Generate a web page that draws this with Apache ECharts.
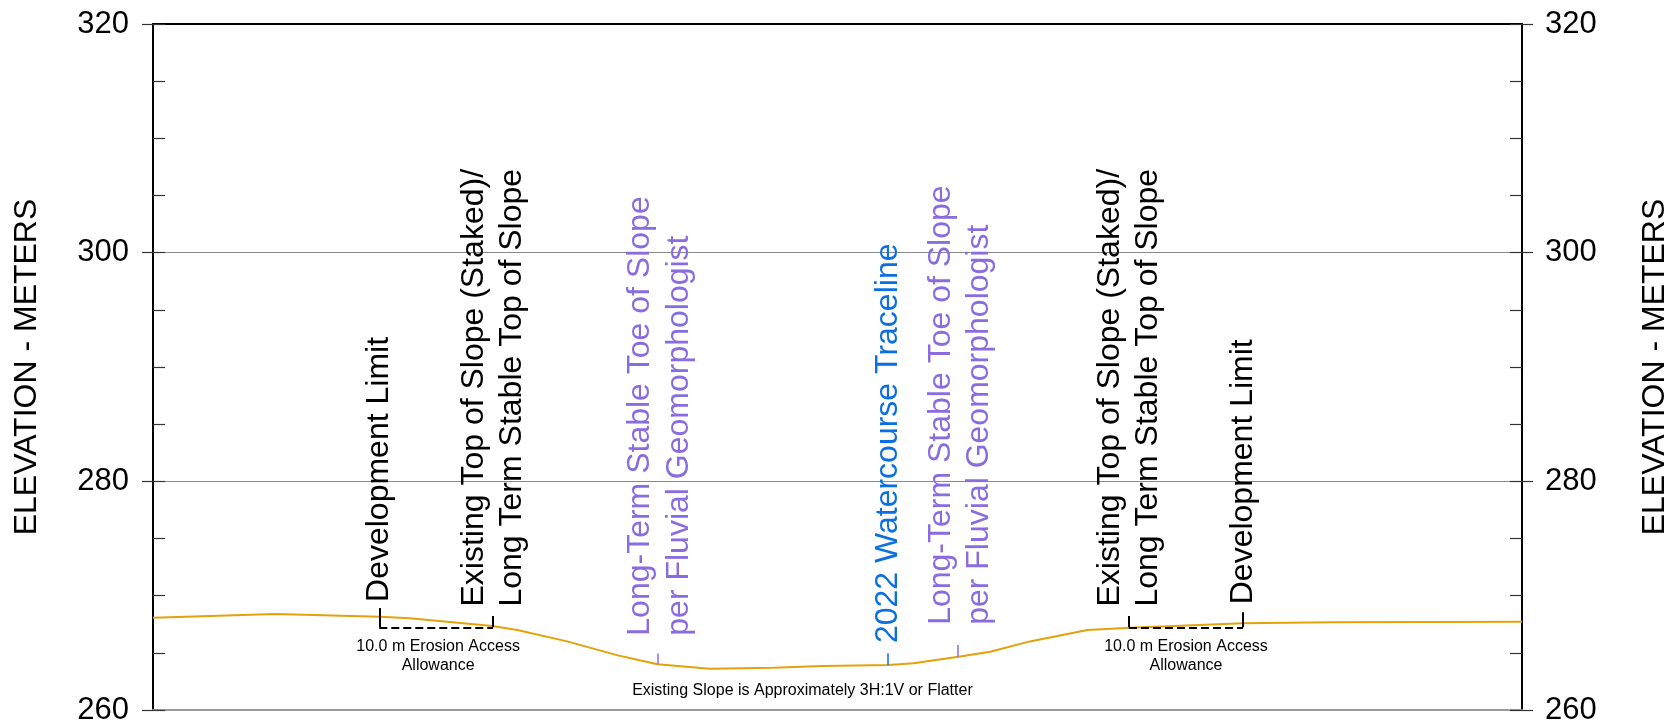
<!DOCTYPE html>
<html>
<head>
<meta charset="utf-8">
<script src="https://cdn.jsdelivr.net/npm/echarts@6/dist/echarts.min.js"></script>
<style>
html,body{margin:0;padding:0;background:#fff;}
#chart{width:1669px;height:724px;}
</style>
</head>
<body>
<div id="chart"></div>
<script>
// ---- DATA ----
// Ground profile: chainage (m) and elevation (m)
const profileX    = [0, 10.8, 20.1, 22.7, 30.0, 32.2, 36.6, 41.0, 43.0, 44.6, 49.2, 54.8, 59.2, 65.0, 67.2, 71.2, 74.0, 77.5, 82.6, 86.4, 96.3, 104.3, 121.0];
const profileElev = [268.07, 268.40, 268.16, 268.02, 267.35, 267.00, 266.00, 264.80, 264.35, 264.00, 263.60, 263.70, 263.85, 263.93, 264.08, 264.66, 265.10, 266.00, 267.00, 267.20, 267.58, 267.67, 267.72];

// Axis ranges / ticks
const xRange = [0, 121];
const yRange = [260, 320];
const yMajor = 20;
const yMinor = 5;
const yAxisName = 'ELEVATION - METERS';

// Vertical (rotated) annotations
const vLabelText = [
  'Development Limit',
  'Existing Top of Slope (Staked)/\nLong Term Stable Top of Slope',
  'Long-Term Stable Toe of Slope\nper Fluvial Geomorphologist',
  '2022 Watercourse Traceline',
  'Long-Term Stable Toe of Slope\nper Fluvial Geomorphologist',
  'Existing Top of Slope (Staked)/\nLong Term Stable Top of Slope',
  'Development Limit'
];
const vLabelX    = [20.0, 30.05, 44.8, 64.96, 71.33, 86.26, 96.34];
const vLabelElev = [269.45, 269.05, 266.50, 265.85, 267.45, 269.05, 269.25];
const vLabelKind = ['limit', 'limit', 'toe', 'trace', 'toe', 'limit', 'limit'];

// Horizontal notes
const noteText = ['10.0 m Erosion Access\nAllowance', '10.0 m Erosion Access\nAllowance', 'Existing Slope is Approximately 3H:1V or Flatter'];
const noteX    = [25.2, 91.3, 57.4];
const noteElev = [264.72, 264.72, 261.66];

// Bracket ticks (solid vertical)
const bracketX      = [20.0, 30.05, 86.26, 96.34];
const bracketTop    = [268.92, 268.22, 268.22, 268.55];
const bracketBottom = [267.23, 267.23, 267.23, 267.23];
// Erosion allowance spans (dashed)
const allowanceFrom = [20.0, 86.26];
const allowanceTo   = [30.05, 96.34];
const allowanceElev = [267.23, 267.23];

// Marker ticks at toe / traceline
const markerX      = [44.63, 64.96, 71.15];
const markerBottom = [264.00, 263.93, 264.66];
const markerTop    = [264.95, 264.96, 265.68];
const markerKind   = ['toe', 'trace', 'toe'];

// ---- STYLE ----
const FONT = '"Liberation Sans", Arial, sans-serif';
const kindColor = { limit: '#000000', toe: '#8A6CE0', trace: '#0A6FE0' };
const profileColor = '#E3A10A';

const chart = echarts.init(document.getElementById('chart'), null, { renderer: 'canvas' });

function yAxisMain(side, gap, margin) {
  return {
    type: 'value', position: side, min: yRange[0], max: yRange[1], interval: yMajor,
    name: yAxisName, nameLocation: 'middle', nameGap: gap, nameRotate: 90,
    nameTextStyle: { fontFamily: FONT, fontSize: 32, color: '#000' },
    axisLine: { show: true, lineStyle: { color: '#000', width: 2 } },
    axisTick: { show: true, inside: false, length: 11, lineStyle: { color: '#333', width: 1.2 } },
    axisLabel: { show: true, margin: margin, fontFamily: FONT, fontSize: 31, color: '#000' },
    splitLine: { show: side === 'left', showMinLine: false, showMaxLine: false, lineStyle: { color: '#8a8a8a', width: 1.2 } }
  };
}
function yAxisMinor(side) {
  return {
    type: 'value', position: side, min: yRange[0], max: yRange[1], interval: yMinor,
    axisLine: { show: false },
    axisTick: { show: true, inside: true, length: 12, lineStyle: { color: '#333', width: 1.2 } },
    axisLabel: { show: false },
    splitLine: { show: false }
  };
}

const profileData = profileX.map((x, i) => [x, profileElev[i]]);

const bracketLines = bracketX.map((x, i) => ({ coords: [[x, bracketTop[i]], [x, bracketBottom[i]]] }));
const allowanceLines = allowanceFrom.map((x, i) => ({ coords: [[x, allowanceElev[i]], [allowanceTo[i], allowanceElev[i]]] }));
const markerLines = markerX.map((x, i) => ({
  coords: [[x, markerBottom[i]], [x, markerTop[i]]],
  lineStyle: { color: kindColor[markerKind[i]], width: 1.5 }
}));

const vLabelData = vLabelText.map((t, i) => ({
  name: t, value: [vLabelX[i], vLabelElev[i]],
  label: { color: kindColor[vLabelKind[i]] }
}));
const noteData = noteText.map((t, i) => ({ name: t, value: [noteX[i], noteElev[i]] }));

chart.setOption({
  animation: false,
  backgroundColor: '#ffffff',
  grid: { left: 153, right: 147, top: 24, bottom: 14, containLabel: false, outerBoundsMode: 'none' },
  xAxis: [
    { type: 'value', position: 'bottom', min: xRange[0], max: xRange[1],
      axisLine: { show: true, onZero: false, lineStyle: { color: '#9a9a9a', width: 2 } },
      axisTick: { show: false }, axisLabel: { show: false }, splitLine: { show: false } },
    { type: 'value', position: 'top', min: xRange[0], max: xRange[1],
      axisLine: { show: true, onZero: false, lineStyle: { color: '#000', width: 2 } },
      axisTick: { show: false }, axisLabel: { show: false }, splitLine: { show: false } }
  ],
  yAxis: [
    yAxisMain('left', 110, 24),
    yAxisMinor('left'),
    yAxisMain('right', 117, 23),
    yAxisMinor('right')
  ],
  series: [
    { name: 'Ground', type: 'line', xAxisIndex: 0, yAxisIndex: 0, data: profileData,
      showSymbol: false, symbol: 'none', silent: true, z: 3,
      lineStyle: { color: profileColor, width: 2 } },
    { name: 'Brackets', type: 'lines', coordinateSystem: 'cartesian2d', xAxisIndex: 0, yAxisIndex: 0,
      polyline: false, silent: true, z: 4, data: bracketLines,
      lineStyle: { color: '#000', width: 2, opacity: 1 } },
    { name: 'Allowance', type: 'lines', coordinateSystem: 'cartesian2d', xAxisIndex: 0, yAxisIndex: 0,
      polyline: false, silent: true, z: 4, data: allowanceLines,
      lineStyle: { color: '#000', width: 2, type: [8, 4], opacity: 1 } },
    { name: 'Markers', type: 'lines', coordinateSystem: 'cartesian2d', xAxisIndex: 0, yAxisIndex: 0,
      polyline: false, silent: true, z: 4, data: markerLines,
      lineStyle: { width: 1.5, opacity: 1 } },
    { name: 'VLabels', type: 'scatter', xAxisIndex: 0, yAxisIndex: 0, data: vLabelData,
      symbolSize: 0, silent: true, z: 5, itemStyle: { color: 'transparent', opacity: 1 },
      label: { show: true, position: 'inside', formatter: p => p.name, rotate: 90, opacity: 1,
        align: 'left', verticalAlign: 'middle', fontFamily: FONT, fontSize: 32, lineHeight: 38.5,
        textBorderWidth: 0, textBorderColor: 'transparent', textShadowBlur: 0 } },
    { name: 'Notes', type: 'scatter', xAxisIndex: 0, yAxisIndex: 0, data: noteData,
      symbolSize: 0, silent: true, z: 5, itemStyle: { color: 'transparent', opacity: 1 },
      label: { show: true, position: 'inside', formatter: p => p.name, opacity: 1,
        align: 'center', verticalAlign: 'middle', fontFamily: FONT, fontSize: 16, lineHeight: 19.5, color: '#000',
        textBorderWidth: 0, textBorderColor: 'transparent' } }
  ]
});
</script>
</body>
</html>
